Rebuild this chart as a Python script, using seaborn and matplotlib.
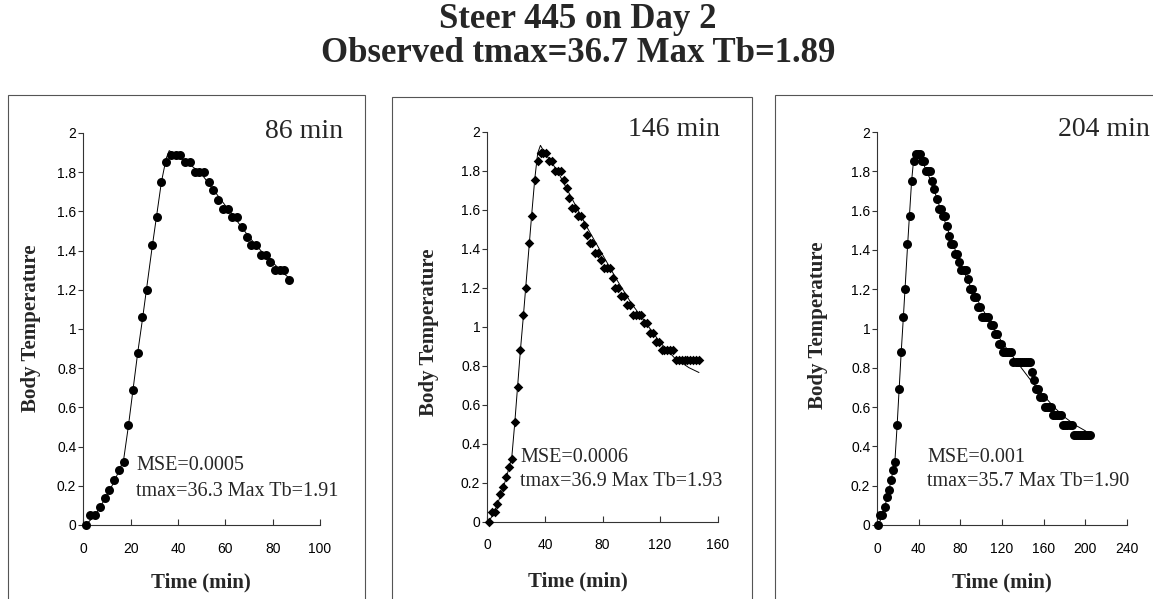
import matplotlib
matplotlib.use("Agg")
import matplotlib.pyplot as plt
from matplotlib.patches import Rectangle
import seaborn as sns
import numpy as np

# ---------------- data ----------------
time_min = [1, 3, 5, 7, 9, 11, 13, 15, 17, 19, 21, 23, 25, 27, 29, 31, 33, 35, 37, 39,
            41, 43, 45, 47, 49, 51, 53, 55, 57, 59, 61, 63, 65, 67, 69, 71, 73, 75, 77, 79,
            81, 83, 85, 87, 89, 91, 93, 95, 97, 99, 101, 103, 105, 107, 109, 111, 113, 115, 117, 119,
            121, 123, 125, 127, 129, 131, 133, 135, 137, 139, 141, 143, 145, 147, 149, 151, 153, 155, 157, 159,
            161, 163, 165, 167, 169, 171, 173, 175, 177, 179, 181, 183, 185, 187, 189, 191, 193, 195, 197, 199,
            201, 203, 205]
body_temp = [0.00, 0.05, 0.05, 0.09, 0.14, 0.18, 0.23, 0.28, 0.32,
             0.51, 0.69, 0.88, 1.06, 1.20, 1.43, 1.57, 1.75, 1.85,
             1.89, 1.89, 1.89, 1.85, 1.85, 1.80, 1.80, 1.80, 1.75,
             1.71, 1.66, 1.61, 1.61, 1.57, 1.57, 1.52, 1.47, 1.43,
             1.43, 1.38, 1.38, 1.34, 1.30, 1.30, 1.30, 1.25, 1.20,
             1.20, 1.16, 1.16, 1.11, 1.11, 1.06, 1.06, 1.06, 1.06,
             1.02, 1.02, 0.97, 0.97, 0.92, 0.92, 0.88, 0.88, 0.88,
             0.88, 0.88, 0.83, 0.83, 0.83, 0.83, 0.83, 0.83, 0.83,
             0.83, 0.83, 0.78, 0.74, 0.69, 0.69, 0.65, 0.65, 0.60,
             0.60, 0.60, 0.60, 0.56, 0.56, 0.56, 0.56, 0.56, 0.51,
             0.51, 0.51, 0.51, 0.51, 0.46, 0.46, 0.46, 0.46, 0.46,
             0.46, 0.46, 0.46, 0.46]

panel_labels = ["86 min", "146 min", "204 min"]
panel_end = [87, 147, 205]
mse_text = ["MSE=0.0005", "MSE=0.0006", "MSE=0.001"]
fit_text = ["tmax=36.3 Max Tb=1.91", "tmax=36.9 Max Tb=1.93", "tmax=35.7 Max Tb=1.90"]
x_max = [100, 160, 240]
x_step = [20, 40, 40]
y_ticks = [0, 0.2, 0.4, 0.6, 0.8, 1, 1.2, 1.4, 1.6, 1.8, 2]
y_tick_labels = ["0", "0.2", "0.4", "0.6", "0.8", "1", "1.2", "1.4", "1.6", "1.8", "2"]

fit1_t = [1, 5, 9, 13, 17, 19, 21, 23, 25, 27, 29, 31, 33, 35, 36.3, 40, 45, 50, 55, 60, 65, 70, 75, 80, 85, 87]
fit1_y = [0.00, 0.05, 0.13, 0.22, 0.33, 0.50, 0.69, 0.88, 1.05, 1.23, 1.41, 1.58, 1.75, 1.87, 1.91, 1.88,
          1.84, 1.79, 1.71, 1.63, 1.55, 1.47, 1.40, 1.34, 1.28, 1.26]
fit2_t = [1, 5, 9, 13, 17, 19, 21, 23, 25, 27, 29, 31, 33, 35, 36.9, 40, 45, 50, 55, 60, 70, 80, 90, 100,
          110, 120, 130, 140, 147]
fit2_y = [0.00, 0.05, 0.13, 0.22, 0.33, 0.50, 0.69, 0.88, 1.05, 1.23, 1.41, 1.59, 1.76, 1.89, 1.93, 1.89,
          1.84, 1.78, 1.71, 1.64, 1.50, 1.37, 1.24, 1.12, 1.02, 0.92, 0.84, 0.79, 0.765]
fit3_t = [1, 5, 9, 13, 17, 19, 21, 23, 25, 27, 29, 31, 33, 35.7, 40, 45, 50, 55, 60, 70, 80, 90, 100, 110,
          120, 130, 140, 150, 160, 170, 180, 190, 200, 205]
fit3_y = [0.00, 0.05, 0.13, 0.22, 0.33, 0.50, 0.69, 0.88, 1.05, 1.23, 1.41, 1.58, 1.75, 1.90, 1.87, 1.83,
          1.77, 1.70, 1.62, 1.47, 1.33, 1.21, 1.11, 1.02, 0.93, 0.86, 0.79, 0.72, 0.66, 0.60, 0.55, 0.51,
          0.48, 0.46]
fits = [(fit1_t, fit1_y), (fit2_t, fit2_y), (fit3_t, fit3_y)]

# ---------------- layout (pixels) ----------------
W, H = 1153, 599
axes_px = [(83.3, 320.0, 525.0, 133.0), (487.3, 717.7, 521.7, 131.7), (877.3, 1126.7, 525.0, 132.0)]
frames_px = [(8, 365, 95), (391.7, 751.7, 96.7), (775, 1170, 95)]
markers = ["o", "D", "o"]
msizes = [42, 24, 42]
ylabel_px = [(31, 328), (429, 332), (818, 325)]
xlabel_px = [(201, 582), (578, 581), (1001.7, 582)]
minlabel_px = [(343, 131), (720, 130), (1150, 130)]
mse_px = [(136, 466, 492), (520, 458, 482), (927, 458, 482)]

sns.set_style("ticks")
plt.rcParams["font.family"] = ["Liberation Sans", "DejaVu Sans"]
serif = ["Liberation Serif", "DejaVu Serif"]

fig = plt.figure(figsize=(W / 100, H / 100), dpi=100)
fig.patch.set_facecolor("white")


def fx(x):
    return x / W


def fy(y):
    return 1 - y / H


t_arr = np.array(time_min)
b_arr = np.array(body_temp)

for i in range(3):
    x0, x1, yb, yt = axes_px[i]
    ax = fig.add_axes([fx(x0), fy(yb), (x1 - x0) / W, (yb - yt) / H])
    mask = t_arr <= panel_end[i]
    ft, fyv = fits[i]
    sns.lineplot(x=ft, y=fyv, ax=ax, color="black", linewidth=0.7, sort=False, estimator=None, zorder=2)
    sns.scatterplot(x=t_arr[mask], y=b_arr[mask], ax=ax, marker=markers[i], s=msizes[i],
                    color="black", edgecolor="black", linewidth=0, zorder=3, clip_on=False)
    ax.set_xlim(0, x_max[i])
    ax.set_ylim(0, 2)
    ax.set_xticks(list(range(0, x_max[i] + 1, x_step[i])))
    ax.set_yticks(y_ticks)
    ax.set_yticklabels(y_tick_labels)
    ax.set_xlabel("")
    ax.set_ylabel("")
    for s in ["top", "right"]:
        ax.spines[s].set_visible(False)
    for s in ["left", "bottom"]:
        ax.spines[s].set_color("#333333")
        ax.spines[s].set_linewidth(0.8)
    ax.tick_params(axis="y", direction="out", length=3.5, width=0.8, pad=1.5, labelsize=10,
                   color="#333333", labelcolor="black")
    ax.tick_params(axis="x", direction="in", length=4, width=0.8, pad=12, labelsize=10,
                   color="#333333", labelcolor="black")
    ax.set_facecolor("white")

    # frame around each chart
    fl, fr, ft_ = frames_px[i]
    fig.add_artist(Rectangle((fx(fl), -0.1), (fr - fl) / W, fy(ft_) + 0.1, transform=fig.transFigure,
                             fill=False, edgecolor="#555555", linewidth=0.8))

    lx, ly = ylabel_px[i]
    fig.text(fx(lx), fy(ly), "Body Temperature", rotation=90, ha="center", va="center",
             fontsize=15, fontweight="bold", family=serif)
    tx, ty = xlabel_px[i]
    fig.text(fx(tx), fy(ty), "Time (min)", ha="center", va="center",
             fontsize=15, fontweight="bold", family=serif)
    mx, my = minlabel_px[i]
    fig.text(fx(mx), fy(my), panel_labels[i], ha="right", va="center", fontsize=20, family=serif)
    sx, sy1, sy2 = mse_px[i]
    fig.text(fx(sx), fy(sy1), mse_text[i], ha="left", va="center", fontsize=14.5, family=serif)
    fig.text(fx(sx), fy(sy2), fit_text[i], ha="left", va="center", fontsize=14.5, family=serif)

fig.text(fx(578), fy(20), "Steer 445 on Day 2", ha="center", va="center", fontsize=25,
         fontweight="bold", family=serif)
fig.text(fx(578), fy(53), "Observed tmax=36.7 Max Tb=1.89", ha="center", va="center", fontsize=25,
         fontweight="bold", family=serif)

fig.savefig("out.png", dpi=100, facecolor="white")
